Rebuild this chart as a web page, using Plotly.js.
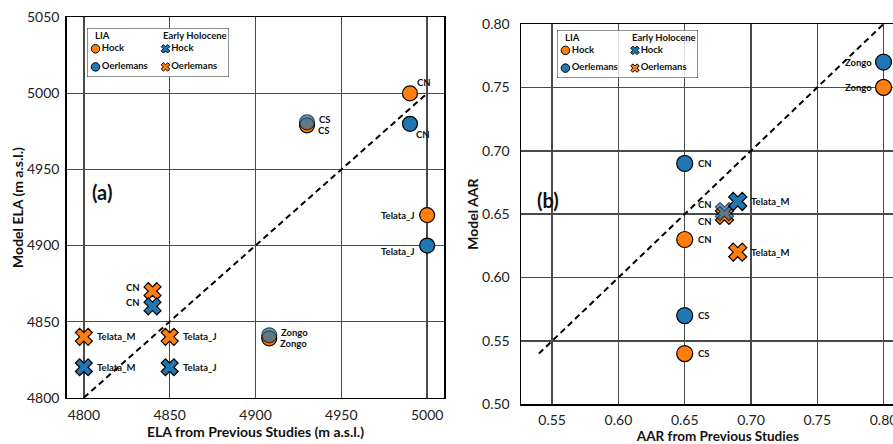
<!DOCTYPE html>
<html>
<head>
<meta charset="utf-8">
<script src="https://cdn.plot.ly/plotly-3.0.1.min.js"></script>
<style>
  html, body { margin: 0; padding: 0; background: #fff; overflow: hidden; }
  #chart { width: 930px; height: 444px; }
</style>
</head>
<body>
<div id="chart"></div>
<script>
// ---------- Panel (a): equilibrium-line altitude, m a.s.l. ----------
const elaLiaHockGlaciers = ['CN', 'CS', 'Telata_J', 'Zongo'];
const elaLiaHockPrevious = [4990, 4930, 5000, 4908];
const elaLiaHockModel    = [5000, 4979, 4920, 4839];

const elaLiaOerlemansGlaciers = ['CN', 'CS', 'Telata_J', 'Zongo'];
const elaLiaOerlemansPrevious = [4990, 4930, 5000, 4908];
const elaLiaOerlemansModel    = [4980, 4981, 4900, 4841];

const elaEhHockGlaciers = ['CN', 'Telata_M', 'Telata_J'];
const elaEhHockPrevious = [4840, 4800, 4850];
const elaEhHockModel    = [4860, 4820, 4820];

const elaEhOerlemansGlaciers = ['CN', 'Telata_M', 'Telata_J'];
const elaEhOerlemansPrevious = [4840, 4800, 4850];
const elaEhOerlemansModel    = [4870, 4840, 4840];

const elaOneToOne = [4800, 5000];

// ---------- Panel (b): accumulation-area ratio ----------
const aarLiaHockGlaciers = ['Zongo', 'CN', 'CS'];
const aarLiaHockPrevious = [0.80, 0.65, 0.65];
const aarLiaHockModel    = [0.75, 0.63, 0.54];

const aarLiaOerlemansGlaciers = ['Zongo', 'CN', 'CS'];
const aarLiaOerlemansPrevious = [0.80, 0.65, 0.65];
const aarLiaOerlemansModel    = [0.77, 0.69, 0.57];

const aarEhHockGlaciers = ['CN', 'Telata_M'];
const aarEhHockPrevious = [0.68, 0.69];
const aarEhHockModel    = [0.652, 0.66];

const aarEhOerlemansGlaciers = ['CN', 'Telata_M'];
const aarEhOerlemansPrevious = [0.68, 0.69];
const aarEhOerlemansModel    = [0.649, 0.62];

const aarOneToOne = [0.54, 0.80];

// ---------- styling ----------
const ORANGE = '#ff7f0e';
const BLUE = '#1f77b4';
const FONT = 'Lato, "Open Sans", "DejaVu Sans", sans-serif';
const LABEL_FONT = { family: FONT, size: 9.5, color: '#111', weight: 'bold' };

// where each glacier name sits relative to its marker (pixels)
const PLACE = {
  ne:    { xanchor: 'left',  dx: 5,   dy: 11 },
  se:    { xanchor: 'left',  dx: 4,   dy: -11 },
  e:     { xanchor: 'left',  dx: 11,  dy: 0 },
  eUp:   { xanchor: 'left',  dx: 10,  dy: 3 },
  eDown: { xanchor: 'left',  dx: 9,   dy: -5.5 },
  w:     { xanchor: 'right', dx: -10, dy: 0 },
  wUp:   { xanchor: 'right', dx: -11, dy: 4 },
  nw:    { xanchor: 'right', dx: -10, dy: 7 },
  wDown: { xanchor: 'right', dx: -10, dy: -6 }
};

const elaLiaHockPlace      = ['ne', 'eDown', 'w', 'eDown'];
const elaLiaOerlemansPlace = ['se', 'eUp', 'wDown', 'eUp'];
const elaEhHockPlace       = ['wUp', 'e', 'e'];
const elaEhOerlemansPlace  = ['wUp', 'e', 'e'];
const aarLiaHockPlace      = ['w', 'e', 'e'];
const aarLiaOerlemansPlace = ['w', 'e', 'e'];
const aarEhHockPlace       = ['nw', 'e'];
const aarEhOerlemansPlace  = ['wDown', 'e'];

// Blue markers sitting on top of an orange one are drawn translucent,
// so the pair reads as a grey blend.
function overlapOpacity(xs, ys, ox, oy, xSpan, ySpan) {
  return xs.map((x, i) => {
    const hit = ox.some((v, j) =>
      Math.abs(v - x) / xSpan < 0.02 && Math.abs(oy[j] - ys[i]) / ySpan < 0.025);
    return hit ? 0.7 : 1;
  });
}

const ELA_X = [4790, 5010], ELA_Y = [4800, 5050];
const AAR_X = [0.5265, 0.8235], AAR_Y = [0.50, 0.80];

function pointTrace(xa, ya, xs, ys, symbol, color, size, opacity) {
  return {
    type: 'scatter', mode: 'markers', xaxis: xa, yaxis: ya,
    x: xs, y: ys, showlegend: false, hoverinfo: 'x+y', cliponaxis: false,
    marker: { symbol: symbol, color: color, size: size, opacity: opacity || 1,
              line: { color: '#000', width: 1.2 } }
  };
}

function labelAnnotations(xref, yref, xs, ys, names, places) {
  return names.map((n, i) => {
    const p = PLACE[places[i]];
    return { xref: xref, yref: yref, x: xs[i], y: ys[i], text: n, showarrow: false,
             xanchor: p.xanchor, yanchor: 'middle', xshift: p.dx, yshift: p.dy,
             font: LABEL_FONT };
  });
}

const elaOerlOpacity = overlapOpacity(elaLiaOerlemansPrevious, elaLiaOerlemansModel,
  elaLiaHockPrevious, elaLiaHockModel, ELA_X[1] - ELA_X[0], ELA_Y[1] - ELA_Y[0]);
const elaEhHockOpacity = overlapOpacity(elaEhHockPrevious, elaEhHockModel,
  elaEhOerlemansPrevious, elaEhOerlemansModel, ELA_X[1] - ELA_X[0], ELA_Y[1] - ELA_Y[0]);
const aarOerlOpacity = overlapOpacity(aarLiaOerlemansPrevious, aarLiaOerlemansModel,
  aarLiaHockPrevious, aarLiaHockModel, AAR_X[1] - AAR_X[0], AAR_Y[1] - AAR_Y[0]);
const aarEhHockOpacity = overlapOpacity(aarEhHockPrevious, aarEhHockModel,
  aarEhOerlemansPrevious, aarEhOerlemansModel, AAR_X[1] - AAR_X[0], AAR_Y[1] - AAR_Y[0]);

const dashed = { color: '#000', width: 2, dash: '6px,4px' };

const traces = [
  // panel (a)
  { type: 'scatter', mode: 'lines', x: elaOneToOne, y: elaOneToOne, xaxis: 'x', yaxis: 'y',
    line: dashed, showlegend: false, hoverinfo: 'skip' },
  pointTrace('x', 'y', elaLiaHockPrevious, elaLiaHockModel, 'circle', ORANGE, 15),
  pointTrace('x', 'y', elaLiaOerlemansPrevious, elaLiaOerlemansModel, 'circle', BLUE, 15, elaOerlOpacity),
  pointTrace('x', 'y', elaEhOerlemansPrevious, elaEhOerlemansModel, 'x', ORANGE, 15),
  pointTrace('x', 'y', elaEhHockPrevious, elaEhHockModel, 'x', BLUE, 15, elaEhHockOpacity),
  // panel (b)
  { type: 'scatter', mode: 'lines', x: aarOneToOne, y: aarOneToOne, xaxis: 'x2', yaxis: 'y2',
    line: dashed, showlegend: false, hoverinfo: 'skip' },
  pointTrace('x2', 'y2', aarLiaHockPrevious, aarLiaHockModel, 'circle', ORANGE, 16),
  pointTrace('x2', 'y2', aarLiaOerlemansPrevious, aarLiaOerlemansModel, 'circle', BLUE, 16, aarOerlOpacity),
  pointTrace('x2', 'y2', aarEhOerlemansPrevious, aarEhOerlemansModel, 'x', ORANGE, 16),
  pointTrace('x2', 'y2', aarEhHockPrevious, aarEhHockModel, 'x', BLUE, 16, aarEhHockOpacity)
];

// ---------- key boxes: two columns (LIA / Early Holocene) ----------
const keyColumns = ['LIA', 'Early Holocene'];
const keyEntries = [
  { col: 0, row: 0, name: 'Hock',      symbol: 'circle', color: ORANGE },
  { col: 0, row: 1, name: 'Oerlemans', symbol: 'circle', color: BLUE },
  { col: 1, row: 0, name: 'Hock',      symbol: 'x',      color: BLUE },
  { col: 1, row: 1, name: 'Oerlemans', symbol: 'x',      color: ORANGE }
];
const KEY_W = 142, KEY_H = 49;
const keyColX = [8.5, 78.5], keyTitleX = [5.7, 74], keyRowY = [20.8, 38.9], keyTitleY = 7.6;

const annotations = [];
const shapes = [];
['3', '4'].forEach(k => {
  shapes.push({ type: 'rect', xref: 'x' + k, yref: 'y' + k, x0: 0, x1: KEY_W, y0: 0, y1: KEY_H,
                layer: 'below', fillcolor: 'rgba(255,255,255,0.82)',
                line: { color: '#222', width: 1 } });
  keyEntries.forEach(e => {
    traces.push({
      type: 'scatter', mode: 'markers+text', xaxis: 'x' + k, yaxis: 'y' + k,
      x: [keyColX[e.col]], y: [keyRowY[e.row]], text: [e.name], textposition: 'middle right',
      textfont: LABEL_FONT, cliponaxis: false, showlegend: false, hoverinfo: 'skip',
      marker: { symbol: e.symbol, color: e.color, size: e.symbol === 'x' ? 7.5 : 8.5,
                line: { color: '#000', width: 1 } }
    });
  });
  keyColumns.forEach((t, c) => annotations.push({
    xref: 'x' + k, yref: 'y' + k, x: keyTitleX[c], y: keyTitleY, text: t, showarrow: false,
    xanchor: 'left', yanchor: 'middle', font: LABEL_FONT
  }));
});

// glacier names next to markers
annotations.push(
  ...labelAnnotations('x', 'y', elaLiaHockPrevious, elaLiaHockModel, elaLiaHockGlaciers, elaLiaHockPlace),
  ...labelAnnotations('x', 'y', elaLiaOerlemansPrevious, elaLiaOerlemansModel, elaLiaOerlemansGlaciers, elaLiaOerlemansPlace),
  ...labelAnnotations('x', 'y', elaEhHockPrevious, elaEhHockModel, elaEhHockGlaciers, elaEhHockPlace),
  ...labelAnnotations('x', 'y', elaEhOerlemansPrevious, elaEhOerlemansModel, elaEhOerlemansGlaciers, elaEhOerlemansPlace),
  ...labelAnnotations('x2', 'y2', aarLiaHockPrevious, aarLiaHockModel, aarLiaHockGlaciers, aarLiaHockPlace),
  ...labelAnnotations('x2', 'y2', aarLiaOerlemansPrevious, aarLiaOerlemansModel, aarLiaOerlemansGlaciers, aarLiaOerlemansPlace),
  ...labelAnnotations('x2', 'y2', aarEhHockPrevious, aarEhHockModel, aarEhHockGlaciers, aarEhHockPlace),
  ...labelAnnotations('x2', 'y2', aarEhOerlemansPrevious, aarEhOerlemansModel, aarEhOerlemansGlaciers, aarEhOerlemansPlace)
);

// panel letters
annotations.push(
  { xref: 'x domain', yref: 'y domain', x: 0.062, y: 0.542, text: '(a)', showarrow: false,
    xanchor: 'left', yanchor: 'middle', font: { family: FONT, size: 20, color: '#111', weight: 'bold' } },
  { xref: 'x2 domain', yref: 'y2 domain', x: 0.036, y: 0.537, text: '(b)', showarrow: false,
    xanchor: 'left', yanchor: 'middle', font: { family: FONT, size: 20, color: '#111', weight: 'bold' } }
);

const W = 930, H = 444;
const px = (a, b) => [a / W, b / W];
const py = (top, bottom) => [1 - bottom / H, 1 - top / H];

const tickFont = { family: FONT, size: 14, color: '#222' };
const titleFont = { family: FONT, size: 14, color: '#111', weight: 'bold' };
const baseAxis = {
  showline: true, linecolor: '#000', linewidth: 1.5, mirror: true,
  showgrid: true, gridcolor: '#4a4a4a', gridwidth: 1.5, zeroline: false,
  ticks: '', tickfont: tickFont, fixedrange: true
};
const hidden = { visible: false, fixedrange: true, showgrid: false, zeroline: false };

const layout = {
  width: W, height: H,
  margin: { l: 0, r: 0, t: 0, b: 0 },
  paper_bgcolor: '#fff', plot_bgcolor: 'rgba(0,0,0,0)',
  font: { family: FONT },
  showlegend: false,
  xaxis: Object.assign({}, baseAxis, {
    domain: px(66.7, 444.3), range: ELA_X, dtick: 50, tick0: 4800, anchor: 'y',
    ticklabelstandoff: 4,
    title: { text: 'ELA from Previous Studies (m a.s.l.)', font: titleFont, standoff: 5 } }),
  yaxis: Object.assign({}, baseAxis, {
    domain: py(17.3, 397.7), range: ELA_Y, dtick: 50, tick0: 4800, anchor: 'x',
    ticklabelstandoff: 3,
    title: { text: 'Model ELA (m a.s.l.)', font: titleFont, standoff: 0 } }),
  xaxis2: Object.assign({}, baseAxis, {
    domain: px(521, 914.7), range: AAR_X, dtick: 0.05, tick0: 0.5, tickformat: '.2f', anchor: 'y2',
    ticklabelstandoff: 2,
    title: { text: 'AAR from Previous Studies', font: Object.assign({}, titleFont, { size: 13.5 }), standoff: 6 } }),
  yaxis2: Object.assign({}, baseAxis, {
    domain: py(24, 404.3), range: AAR_Y, dtick: 0.05, tick0: 0.5, tickformat: '.2f', anchor: 'x2',
    ticklabelstandoff: 7,
    title: { text: 'Model AAR', font: titleFont, standoff: 0 } }),
  xaxis3: Object.assign({}, hidden, { domain: px(87, 229), range: [0, KEY_W], anchor: 'y3' }),
  yaxis3: Object.assign({}, hidden, { domain: py(28, 77), range: [KEY_H, 0], anchor: 'x3' }),
  xaxis4: Object.assign({}, hidden, { domain: px(557, 698), range: [0, KEY_W], anchor: 'y4' }),
  yaxis4: Object.assign({}, hidden, { domain: py(30, 78), range: [KEY_H, 0], anchor: 'x4' }),
  shapes: shapes,
  annotations: annotations
};

Plotly.newPlot('chart', traces, layout, { displayModeBar: false, staticPlot: true });
</script>
</body>
</html>
